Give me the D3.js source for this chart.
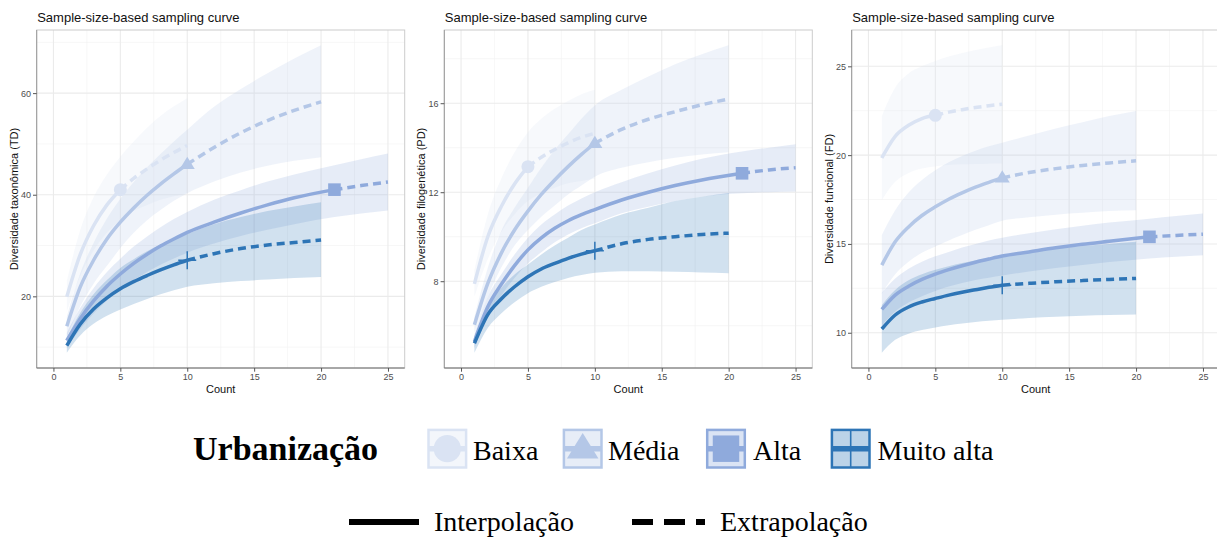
<!DOCTYPE html>
<html>
<head>
<meta charset="utf-8">
<script src="https://cdn.jsdelivr.net/npm/d3@7"></script>
<style>
  body { margin: 0; background: #fff; }
  svg { display: block; }
</style>
</head>
<body>
<svg id="chart" width="1217" height="537"></svg>
<script>
// ---- Sample sizes (number of sampling units) per urbanization level ----
const groupNames = ["Baixa", "Média", "Alta", "Muito alta"];
const observedSize = [5, 10, 21, 10];
const sizesBaixa = [1, 2, 3, 4, 5, 6, 7, 8, 9, 10];
const sizesMedia = [1, 2, 3, 4, 5, 6, 7, 8, 9, 10, 12, 14, 16, 18, 20];
const sizesAlta = [1, 2, 3, 4, 5, 6, 7, 8, 9, 10, 12, 14, 16, 18, 21, 23, 25];
const sizesMuitoAlta = [1, 2, 3, 4, 5, 6, 7, 8, 9, 10, 12, 14, 16, 18, 20];

// ---- Diversidade taxonômica (TD) ----
const tdBaixa = [19.9, 28.2, 33.9, 38.0, 41.0, 43.2, 45.1, 46.8, 48.3, 49.7];
const tdBaixaLo = [17.0, 24.0, 29.0, 32.5, 35.0, 36.8, 38.0, 39.0, 39.7, 40.3];
const tdBaixaHi = [23.0, 33.0, 39.5, 44.0, 47.5, 50.5, 53.2, 55.5, 57.4, 59.0];
const tdMedia = [14.1, 21.8, 27.1, 31.3, 34.6, 37.4, 39.9, 42.1, 44.1, 46.0, 49.3, 52.2, 54.6, 56.6, 58.3];
const tdMediaLo = [12.0, 18.0, 22.5, 26.0, 29.5, 32.5, 35.0, 37.0, 38.8, 40.3, 42.6, 44.4, 45.7, 46.7, 47.4];
const tdMediaHi = [16.0, 24.5, 30.5, 35.3, 39.2, 42.5, 45.4, 48.0, 50.5, 52.8, 57.3, 60.8, 63.9, 66.8, 69.4];
const tdAlta = [11.3, 15.6, 19.1, 22.0, 24.4, 26.5, 28.3, 29.9, 31.3, 32.6, 34.6, 36.4, 38.0, 39.4, 41.0, 41.8, 42.5];
const tdAltaLo = [9.8, 13.5, 16.6, 19.2, 21.4, 23.2, 24.8, 26.2, 27.45, 28.6, 30.4, 31.9, 33.1, 34.2, 35.6, 36.3, 36.9];
const tdAltaHi = [12.8, 17.7, 21.6, 24.8, 27.4, 29.8, 31.8, 33.6, 35.2, 36.6, 39.0, 40.9, 42.6, 44.0, 45.8, 47.0, 48.1];
const tdMuitoAlta = [10.3, 14.5, 17.5, 19.7, 21.5, 22.9, 24.1, 25.2, 26.2, 27.1, 28.4, 29.4, 30.1, 30.6, 31.1];
const tdMuitoAltaLo = [8.92, 12.3, 14.6, 16.2, 17.4, 18.5, 19.5, 20.4, 21.2, 21.9, 22.6, 23.0, 23.3, 23.6, 23.8];
const tdMuitoAltaHi = [11.7, 16.7, 20.4, 23.2, 25.6, 27.3, 28.9, 30.2, 31.3, 32.3, 34.2, 35.6, 36.8, 37.7, 38.5];

// ---- Diversidade filogenética (PD) ----
const pdBaixa = [7.88, 10.0, 11.35, 12.37, 13.15, 13.57, 13.92, 14.22, 14.47, 14.65];
const pdBaixaLo = [7.3, 9.0, 10.2, 11.0, 11.6, 11.95, 12.2, 12.4, 12.5, 12.6];
const pdBaixaHi = [8.5, 11.0, 12.6, 13.8, 14.7, 15.3, 15.75, 16.1, 16.4, 16.6];
const pdMedia = [6.04, 7.9, 9.25, 10.3, 11.15, 11.9, 12.55, 13.15, 13.7, 14.2, 14.82, 15.28, 15.62, 15.93, 16.19];
const pdMediaLo = [5.7, 7.3, 8.6, 9.6, 10.3, 10.9, 11.4, 11.9, 12.3, 12.7, 13.1, 13.35, 13.55, 13.7, 13.8];
const pdMediaHi = [6.4, 8.6, 10.25, 11.3, 12.2, 13.1, 13.9, 14.6, 15.3, 15.9, 16.6, 17.2, 17.75, 18.2, 18.6];
const pdAlta = [5.29, 6.85, 7.85, 8.7, 9.41, 9.95, 10.38, 10.72, 10.99, 11.22, 11.65, 12.0, 12.3, 12.55, 12.85, 13.0, 13.1];
const pdAltaLo = [5.0, 6.4, 7.35, 8.15, 8.8, 9.3, 9.75, 10.1, 10.38, 10.6, 11.05, 11.35, 11.6, 11.8, 11.95, 12.0, 12.03];
const pdAltaHi = [5.6, 7.3, 8.3, 9.2, 9.95, 10.55, 11.0, 11.4, 11.72, 12.0, 12.45, 12.85, 13.2, 13.5, 13.83, 14.0, 14.16];
const pdMuitoAlta = [5.21, 6.5, 7.2, 7.75, 8.2, 8.55, 8.8, 9.03, 9.22, 9.37, 9.68, 9.88, 10.0, 10.1, 10.16];
const pdMuitoAltaLo = [4.79, 5.9, 6.55, 7.05, 7.46, 7.75, 7.97, 8.15, 8.28, 8.38, 8.45, 8.45, 8.42, 8.39, 8.36];
const pdMuitoAltaHi = [5.5, 6.9, 7.7, 8.3, 8.75, 9.2, 9.6, 9.95, 10.3, 10.55, 11.0, 11.3, 11.6, 11.8, 11.96];

// ---- Diversidade funcional (FD) ----
const fdBaixa = [19.84, 21.06, 21.68, 22.06, 22.24, 22.42, 22.56, 22.68, 22.78, 22.87];
const fdBaixaLo = [17.46, 18.5, 19.0, 19.25, 19.38, 19.45, 19.48, 19.5, 19.52, 19.53];
const fdBaixaHi = [22.2, 23.8, 24.6, 25.0, 25.3, 25.55, 25.75, 25.92, 26.06, 26.18];
const fdMedia = [13.81, 15.12, 15.96, 16.6, 17.09, 17.52, 17.88, 18.2, 18.47, 18.72, 19.02, 19.24, 19.42, 19.56, 19.68];
const fdMediaLo = [12.2, 13.3, 14.0, 14.5, 14.85, 15.2, 15.5, 15.8, 16.05, 16.3, 16.5, 16.65, 16.75, 16.85, 16.9];
const fdMediaHi = [15.5, 16.9, 17.9, 18.6, 19.15, 19.6, 19.95, 20.25, 20.5, 20.7, 21.1, 21.5, 21.85, 22.2, 22.49];
const fdAlta = [11.31, 12.12, 12.62, 13.0, 13.3, 13.55, 13.77, 13.97, 14.15, 14.32, 14.55, 14.78, 14.98, 15.15, 15.4, 15.48, 15.55];
const fdAltaLo = [10.4, 11.2, 11.7, 12.05, 12.35, 12.6, 12.8, 12.97, 13.1, 13.22, 13.45, 13.65, 13.82, 13.98, 14.18, 14.28, 14.37];
const fdAltaHi = [12.25, 13.05, 13.6, 14.0, 14.3, 14.55, 14.8, 15.0, 15.2, 15.35, 15.6, 15.82, 16.02, 16.2, 16.42, 16.57, 16.71];
const fdMuitoAlta = [10.21, 11.0, 11.45, 11.73, 11.93, 12.12, 12.28, 12.42, 12.56, 12.68, 12.78, 12.87, 12.94, 13.0, 13.06];
const fdMuitoAltaLo = [8.88, 9.6, 9.95, 10.15, 10.3, 10.42, 10.52, 10.6, 10.67, 10.73, 10.83, 10.9, 10.96, 11.0, 11.03];
const fdMuitoAltaHi = [11.55, 12.4, 12.95, 13.3, 13.55, 13.75, 13.92, 14.08, 14.22, 14.35, 14.55, 14.73, 14.88, 15.0, 15.12];

// ---- Axis ticks ----
const xTicks = [0, 5, 10, 15, 20, 25];
const tdTicks = [20, 40, 60];
const pdTicks = [8, 12, 16];
const fdTicks = [10, 15, 20, 25];

// ---- Styling ----
const lineColors = ["#dae3f3", "#b4c7e7", "#8faadc", "#2e75b6"];
const bandOpacity = 0.22;
const sansFont = "'Liberation Sans', Arial, Helvetica, sans-serif";
const serifFont = "'Liberation Serif', 'Times New Roman', serif";

const panelLefts = [36.7, 444.3, 851.7];
const panelWidth = 368;
const panelTop = 30, panelBottom = 368;

function makeSeries(sizes, mean, lo, hi, gi) {
  return sizes.map((s, i) => ({ size: s, mean: mean[i], lo: lo[i], hi: hi[i], group: gi }));
}

const panels = [
  {
    title: "Sample-size-based sampling curve",
    yLabel: "Diversidade taxonômica (TD)",
    yTicks: tdTicks,
    series: [
      makeSeries(sizesBaixa, tdBaixa, tdBaixaLo, tdBaixaHi, 0),
      makeSeries(sizesMedia, tdMedia, tdMediaLo, tdMediaHi, 1),
      makeSeries(sizesAlta, tdAlta, tdAltaLo, tdAltaHi, 2),
      makeSeries(sizesMuitoAlta, tdMuitoAlta, tdMuitoAltaLo, tdMuitoAltaHi, 3)
    ]
  },
  {
    title: "Sample-size-based sampling curve",
    yLabel: "Diversidade filogenética (PD)",
    yTicks: pdTicks,
    series: [
      makeSeries(sizesBaixa, pdBaixa, pdBaixaLo, pdBaixaHi, 0),
      makeSeries(sizesMedia, pdMedia, pdMediaLo, pdMediaHi, 1),
      makeSeries(sizesAlta, pdAlta, pdAltaLo, pdAltaHi, 2),
      makeSeries(sizesMuitoAlta, pdMuitoAlta, pdMuitoAltaLo, pdMuitoAltaHi, 3)
    ]
  },
  {
    title: "Sample-size-based sampling curve",
    yLabel: "Diversidade funcional (FD)",
    yTicks: fdTicks,
    series: [
      makeSeries(sizesBaixa, fdBaixa, fdBaixaLo, fdBaixaHi, 0),
      makeSeries(sizesMedia, fdMedia, fdMediaLo, fdMediaHi, 1),
      makeSeries(sizesAlta, fdAlta, fdAltaLo, fdAltaHi, 2),
      makeSeries(sizesMuitoAlta, fdMuitoAlta, fdMuitoAltaLo, fdMuitoAltaHi, 3)
    ]
  }
];

// ggplot-style 5% expansion of a continuous range
function expand([a, b]) {
  const pad = (b - a) * 0.05;
  return [a - pad, b + pad];
}

const svg = d3.select("#chart");
svg.append("rect").attr("width", 1217).attr("height", 537).attr("fill", "#fff");
const defs = svg.append("defs");

// Marker shapes for each urbanization level
function drawMarker(sel, gi, cx, cy, scale) {
  const col = lineColors[gi];
  if (gi === 0) {
    sel.append("circle").attr("cx", cx).attr("cy", cy).attr("r", 6.5 * scale).attr("fill", col);
  } else if (gi === 1) {
    const s = 7.5 * scale;
    sel.append("path")
      .attr("d", `M${cx},${cy - s} L${cx + s},${cy + s * 0.62} L${cx - s},${cy + s * 0.62} Z`)
      .attr("fill", col);
  } else if (gi === 2) {
    const s = 6.3 * scale;
    sel.append("rect").attr("x", cx - s).attr("y", cy - s).attr("width", 2 * s).attr("height", 2 * s).attr("fill", col);
  } else {
    const s = 9 * scale;
    sel.append("line").attr("x1", cx).attr("x2", cx).attr("y1", cy - s).attr("y2", cy + s)
      .attr("stroke", col).attr("stroke-width", 1.5);
    sel.append("line").attr("x1", cx - s).attr("x2", cx + s).attr("y1", cy).attr("y2", cy)
      .attr("stroke", col).attr("stroke-width", 1.5);
  }
}

panels.forEach((p, pi) => {
  const left = panelLefts[pi];
  const right = left + panelWidth;
  const x = d3.scaleLinear().domain(expand([0, 25])).range([left, right]);
  const allVals = p.series.flatMap(s => s.flatMap(d => [d.lo, d.hi]));
  const y = d3.scaleLinear().domain(expand(d3.extent(allVals))).range([panelBottom, panelTop]);
  const [y0, y1] = y.domain();
  const [x0, x1] = x.domain();

  const g = svg.append("g");

  // Grid: minor lines at midpoints, major at ticks
  const yStep = p.yTicks[1] - p.yTicks[0];
  const yMinor = d3.range(p.yTicks[0] - yStep / 2, p.yTicks[p.yTicks.length - 1] + yStep, yStep)
    .filter(v => v > y0 && v < y1);
  const xMinor = d3.range(-2.5, 30, 5).filter(v => v > x0 && v < x1);
  const grid = g.append("g");
  grid.selectAll(".ymin").data(yMinor).join("line")
    .attr("x1", left).attr("x2", right).attr("y1", d => y(d)).attr("y2", d => y(d))
    .attr("stroke", "#f1f1f1").attr("stroke-width", 0.6);
  grid.selectAll(".xmin").data(xMinor).join("line")
    .attr("y1", panelTop).attr("y2", panelBottom).attr("x1", d => x(d)).attr("x2", d => x(d))
    .attr("stroke", "#f1f1f1").attr("stroke-width", 0.6);
  grid.selectAll(".ymaj").data(p.yTicks).join("line")
    .attr("x1", left).attr("x2", right).attr("y1", d => y(d)).attr("y2", d => y(d))
    .attr("stroke", "#ebebeb").attr("stroke-width", 1.1);
  grid.selectAll(".xmaj").data(xTicks).join("line")
    .attr("y1", panelTop).attr("y2", panelBottom).attr("x1", d => x(d)).attr("x2", d => x(d))
    .attr("stroke", "#ebebeb").attr("stroke-width", 1.1);

  // Clip path for the data layer
  const clipId = "plotclip" + pi;
  defs.append("clipPath").attr("id", clipId).append("rect")
    .attr("x", left).attr("y", panelTop).attr("width", panelWidth).attr("height", panelBottom - panelTop);
  const data = g.append("g").attr("clip-path", `url(#${clipId})`);

  const area = d3.area().x(d => x(d.size)).y0(d => y(d.lo)).y1(d => y(d.hi)).curve(d3.curveMonotoneX);
  const line = d3.line().x(d => x(d.size)).y(d => y(d.mean)).curve(d3.curveMonotoneX);

  // Confidence bands
  p.series.forEach((s, gi) => {
    data.append("path").attr("d", area(s))
      .attr("fill", lineColors[gi]).attr("fill-opacity", bandOpacity);
  });

  // Interpolated (solid) and extrapolated (dashed) curves + observed point
  p.series.forEach((s, gi) => {
    const n = observedSize[gi];
    const interp = s.filter(d => d.size <= n);
    const extrap = s.filter(d => d.size >= n);
    if (extrap.length > 1) {
      data.append("path").attr("d", line(extrap)).attr("fill", "none")
        .attr("stroke", lineColors[gi]).attr("stroke-width", 3.5)
        .attr("stroke-dasharray", "8,5");
    }
    data.append("path").attr("d", line(interp)).attr("fill", "none")
      .attr("stroke", lineColors[gi]).attr("stroke-width", 3.5);
    const obs = s.find(d => d.size === n);
    drawMarker(data, gi, x(obs.size), y(obs.mean), 1);
  });

  // Panel border and axis lines
  g.append("rect").attr("x", left).attr("y", panelTop).attr("width", panelWidth).attr("height", panelBottom - panelTop)
    .attr("fill", "none").attr("stroke", "#cccccc").attr("stroke-width", 1);
  g.append("line").attr("x1", left).attr("x2", left).attr("y1", panelTop).attr("y2", panelBottom)
    .attr("stroke", "#9a9a9a").attr("stroke-width", 1);
  g.append("line").attr("x1", left).attr("x2", right).attr("y1", panelBottom).attr("y2", panelBottom)
    .attr("stroke", "#6a6a6a").attr("stroke-width", 1.2);

  // Axes
  const xAxis = g.append("g").attr("transform", `translate(0,${panelBottom})`)
    .call(d3.axisBottom(x).tickValues(xTicks).tickSize(3.7).tickPadding(2).tickFormat(d3.format("d")));
  const yAxis = g.append("g").attr("transform", `translate(${left},0)`)
    .call(d3.axisLeft(y).tickValues(p.yTicks).tickSize(3.7).tickPadding(2).tickFormat(d3.format("d")));
  [xAxis, yAxis].forEach(ax => {
    ax.select(".domain").remove();
    ax.selectAll(".tick line").attr("stroke", "#555");
    ax.selectAll(".tick text").attr("fill", "#4d4d4d").style("font-family", sansFont).style("font-size", "9px");
  });

  // Titles
  g.append("text").attr("x", left + 0.5).attr("y", 22)
    .style("font-family", sansFont).style("font-size", "13px").attr("fill", "#111")
    .text(p.title);
  g.append("text").attr("x", (left + right) / 2).attr("y", 392.5).attr("text-anchor", "middle")
    .style("font-family", sansFont).style("font-size", "11px").attr("fill", "#111")
    .text("Count");
  g.append("text")
    .attr("transform", `translate(${left - 19},${(panelTop + panelBottom) / 2}) rotate(-90)`)
    .attr("text-anchor", "middle")
    .style("font-family", sansFont).style("font-size", "11px").attr("fill", "#111")
    .text(p.yLabel);
});

// ---- Legend: urbanization levels ----
const legend = svg.append("g");
legend.append("text").attr("x", 193).attr("y", 460)
  .style("font-family", serifFont).style("font-size", "34px").style("font-weight", "bold")
  .attr("fill", "#000").text("Urbanização");

const keyX = [427.3, 562.7, 706, 830.7];
const labelX = [473, 608, 753, 877.5];
const keyY = 428.7, keySize = 40;
groupNames.forEach((name, gi) => {
  const kx = keyX[gi];
  const k = legend.append("g");
  k.append("rect").attr("x", kx).attr("y", keyY).attr("width", keySize).attr("height", keySize)
    .attr("fill", "#fff");
  k.append("rect").attr("x", kx + 1.2).attr("y", keyY + 1.2).attr("width", keySize - 2.4).attr("height", keySize - 2.4)
    .attr("fill", lineColors[gi]).attr("fill-opacity", bandOpacity + 0.1)
    .attr("stroke", lineColors[gi]).attr("stroke-width", 2.5);
  k.append("line").attr("x1", kx + 1).attr("x2", kx + keySize - 1)
    .attr("y1", keyY + keySize / 2).attr("y2", keyY + keySize / 2)
    .attr("stroke", lineColors[gi]).attr("stroke-width", 5.5);
  if (gi === 3) {
    k.append("line").attr("x1", kx + keySize / 2).attr("x2", kx + keySize / 2)
      .attr("y1", keyY + 1).attr("y2", keyY + keySize - 1)
      .attr("stroke", lineColors[gi]).attr("stroke-width", 1.6);
  } else {
    drawMarker(k, gi, kx + keySize / 2, keyY + keySize / 2, 2.1);
  }
  legend.append("text").attr("x", labelX[gi]).attr("y", 460)
    .style("font-family", serifFont).style("font-size", "28px").attr("fill", "#000")
    .text(name);
});

// ---- Legend: line types ----
legend.append("line").attr("x1", 349).attr("x2", 419).attr("y1", 522).attr("y2", 522)
  .attr("stroke", "#000").attr("stroke-width", 6);
legend.append("text").attr("x", 434).attr("y", 531)
  .style("font-family", serifFont).style("font-size", "28px").attr("fill", "#000")
  .text("Interpolação");
legend.append("line").attr("x1", 632).attr("x2", 705).attr("y1", 522).attr("y2", 522)
  .attr("stroke", "#000").attr("stroke-width", 6).attr("stroke-dasharray", "21,11");
legend.append("text").attr("x", 720).attr("y", 531)
  .style("font-family", serifFont).style("font-size", "28px").attr("fill", "#000")
  .text("Extrapolação");
</script>
</body>
</html>
